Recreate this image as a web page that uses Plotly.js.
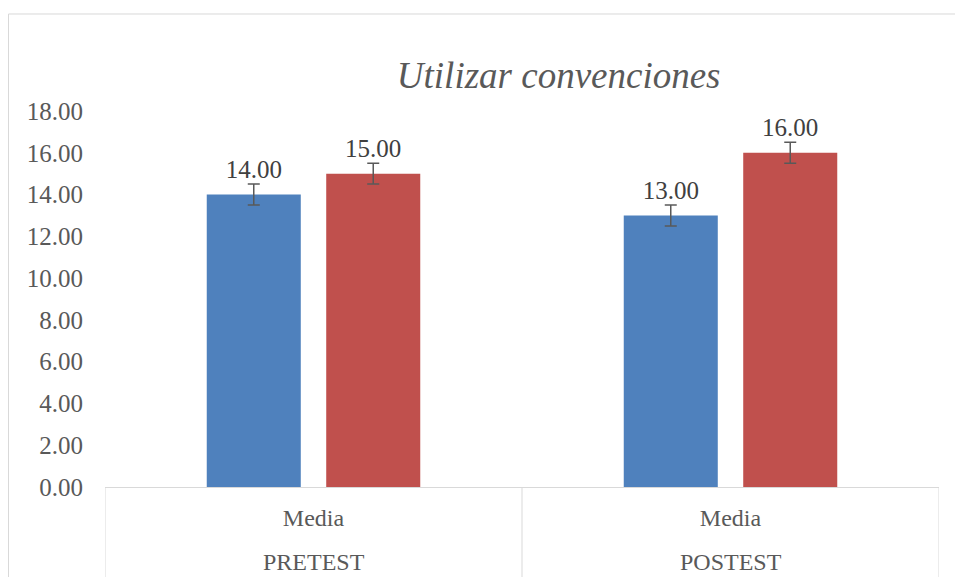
<!DOCTYPE html>
<html>
<head>
<meta charset="utf-8">
<script src="https://cdn.plot.ly/plotly-3.0.1.min.js"></script>
<style>html,body{margin:0;padding:0;background:#fff;}#chart{width:955px;height:583px;}</style>
</head>
<body>
<div id="chart"></div>
<script>
const groups = ["PRETEST", "POSTEST"];
const stats = ["Media", "Media"];
const seriesA = [14.00, 13.00];
const seriesB = [15.00, 16.00];
const errA = [0.5, 0.5];
const errB = [0.5, 0.5];
const titleText = "Utilizar convenciones";

const FONT = "Liberation Serif, Times New Roman, serif";
const GRID = "#d9d9d9";

function barTrace(vals, errs, color) {
  return {
    type: "bar", x: groups, y: vals,
    marker: {color: color},
    error_y: {type: "data", array: errs, visible: true, color: "#595959", thickness: 1.5, width: 6},
    hoverinfo: "skip", showlegend: false
  };
}
function labelTrace(vals) {
  return {
    type: "scatter", mode: "markers+text", x: groups, y: vals,
    text: vals.map(v => v.toFixed(2)), textposition: "top center",
    textfont: {family: FONT, size: 25, color: "#404040"},
    marker: {size: 15, opacity: 0},
    hoverinfo: "skip", showlegend: false, cliponaxis: false
  };
}

const data = [
  barTrace(seriesA, errA, "#4F81BD"),
  barTrace(seriesB, errB, "#C0504D"),
  labelTrace(seriesA),
  labelTrace(seriesB)
];

// second label row (group names) and category dividers
const annotations = groups.map(g => ({
  x: g, xref: "x", y: -0.1995, yref: "paper", yanchor: "middle", xanchor: "center",
  text: g, showarrow: false, font: {family: FONT, size: 24, color: "#595959"}
}));
const shapes = [];
for (let i = 0; i <= groups.length; i++) {
  shapes.push({type: "line", xref: "x", yref: "paper", x0: i - 0.5, x1: i - 0.5, y0: 0, y1: -0.2394,
               line: {color: GRID, width: 1}});
}
shapes.push(
  {type: "line", xref: "paper", yref: "paper", x0: -0.1157, x1: -0.1157, y0: 1.258, y1: -0.2394,
   line: {color: GRID, width: 1}, layer: "below"},
  {type: "line", xref: "paper", yref: "paper", x0: -0.1157, x1: 1.03, y0: 1.258, y1: 1.258,
   line: {color: GRID, width: 1}, layer: "below"}
);

const layout = {
  width: 955, height: 583,
  margin: {l: 105, r: 16, t: 111, b: 96},
  paper_bgcolor: "#ffffff", plot_bgcolor: "#ffffff",
  font: {family: FONT, size: 24, color: "#595959"},
  title: {text: "<i>" + titleText + "</i>", font: {family: FONT, size: 37, color: "#595959"},
          x: 0.544, xref: "paper", xanchor: "center", y: 0.871, yref: "container", yanchor: "middle"},
  barmode: "group", bargap: 0.427, bargroupgap: 0.213,
  scattermode: "group", scattergap: 0.427,
  xaxis: {type: "category", tickvals: groups, ticktext: stats, range: [-0.5, groups.length - 0.5],
          showline: true, linecolor: GRID, linewidth: 1, ticks: "", showgrid: false,
          ticklabelstandoff: 9,
          tickfont: {family: FONT, size: 24, color: "#595959"}},
  yaxis: {range: [0, 18], dtick: 2, tick0: 0, tickformat: ".2f", showgrid: false, zeroline: false,
          showline: false, ticks: "", ticklabelstandoff: 21,
          tickfont: {family: FONT, size: 25, color: "#595959"}},
  annotations: annotations,
  shapes: shapes
};

Plotly.newPlot("chart", data, layout, {displayModeBar: false, staticPlot: true});
</script>
</body>
</html>
